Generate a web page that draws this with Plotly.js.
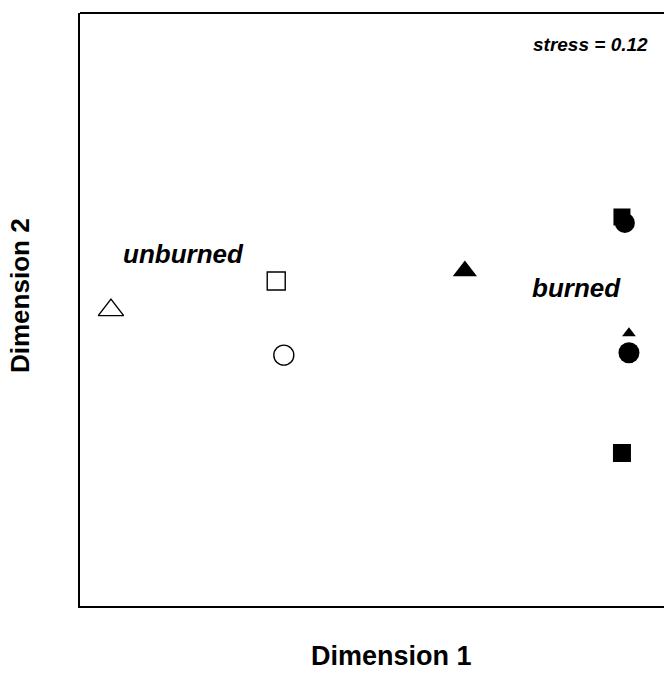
<!DOCTYPE html>
<html>
<head>
<meta charset="utf-8">
<script src="https://cdn.plot.ly/plotly-3.0.1.min.js"></script>
<style>
html,body{margin:0;padding:0;background:#fff;overflow:hidden;}
#chart{width:664px;height:675px;}
</style>
</head>
<body>
<div id="chart"></div>
<script>
// MDS ordination coordinates (arbitrary units)
const unburnedLabels = ["triangle site", "square site", "circle site"];
const unburnedDim1 = [5.3, 33.6, 34.9];
const unburnedDim2 = [49.9, 54.8, 42.3];

const burnedLabels = ["triangle site A", "square site A", "circle site A", "triangle site B", "circle site B", "square site B"];
const burnedDim1 = [65.9, 92.8, 93.3, 94.0, 94.0, 92.8];
const burnedDim2 = [56.5, 65.6, 64.6, 46.0, 42.7, 25.8];

const groupLabels = ["unburned", "burned"];
const stressText = "stress = 0.12";
const axisTitles = ["Dimension 1", "Dimension 2"];

// styling (not data)
const unburnedSymbols = ["triangle-up-open", "square-open", "circle-open"];
const unburnedSizes = [22, 18, 20];
const burnedSymbols = ["triangle-up", "square", "circle", "triangle-up", "circle", "square"];
const burnedSizes = [21, 17, 20, 12, 21, 18];

const traces = [
  {
    type: "scatter", mode: "markers", name: "unburned",
    x: unburnedDim1, y: unburnedDim2, text: unburnedLabels,
    marker: {symbol: unburnedSymbols, size: unburnedSizes, color: "#000", opacity: 1,
             line: {color: "#000", width: 1.4}},
    hoverinfo: "text", cliponaxis: false
  },
  {
    type: "scatter", mode: "markers", name: "burned",
    x: burnedDim1, y: burnedDim2, text: burnedLabels,
    marker: {symbol: burnedSymbols, size: burnedSizes, color: "#000", opacity: 1,
             line: {width: 0}},
    hoverinfo: "text", cliponaxis: false
  }
];

const font = "'Liberation Sans', Arial, Helvetica, sans-serif";

const layout = {
  width: 664, height: 675,
  margin: {l: 80, r: 0, t: 13, b: 69},
  paper_bgcolor: "#fff", plot_bgcolor: "#fff",
  showlegend: false,
  font: {family: font, color: "#000"},
  xaxis: {range: [0, 100], showgrid: false, zeroline: false, showticklabels: false,
          ticks: "", showline: true, linecolor: "#000", linewidth: 2, fixedrange: true},
  yaxis: {range: [0, 100], showgrid: false, zeroline: false, showticklabels: false,
          ticks: "", showline: true, linecolor: "#000", linewidth: 2, fixedrange: true},
  shapes: [
    {type: "line", xref: "paper", yref: "paper", x0: 0, x1: 1.05, y0: 1, y1: 1,
     line: {color: "#000", width: 2}}
  ],
  annotations: [
    {text: "<b><i>" + groupLabels[0] + "</i></b>", x: 7.0, y: 59.3, xref: "x", yref: "y",
     xanchor: "left", yanchor: "middle", showarrow: false, font: {size: 26, family: font}},
    {text: "<b><i>" + groupLabels[1] + "</i></b>", x: 77.0, y: 53.6, xref: "x", yref: "y",
     xanchor: "left", yanchor: "middle", showarrow: false, font: {size: 26, family: font}},
    {text: "<b><i>" + stressText + "</i></b>", x: 97.6, y: 94.7, xref: "x", yref: "y",
     xanchor: "right", yanchor: "middle", showarrow: false, font: {size: 19, family: font}},
    {text: "<b>" + axisTitles[0] + "</b>", x: (391 - 80) / 584, y: -(656 - 606) / 593,
     xref: "paper", yref: "paper", xanchor: "center", yanchor: "middle",
     showarrow: false, font: {size: 27, family: font}},
    {text: "<b>" + axisTitles[1] + "</b>", x: -(80 - 20) / 584, y: (606 - 296) / 593,
     xref: "paper", yref: "paper", xanchor: "center", yanchor: "middle", textangle: -90,
     showarrow: false, font: {size: 26, family: font}}
  ]
};

Plotly.newPlot("chart", traces, layout, {displayModeBar: false, staticPlot: true});
</script>
</body>
</html>
